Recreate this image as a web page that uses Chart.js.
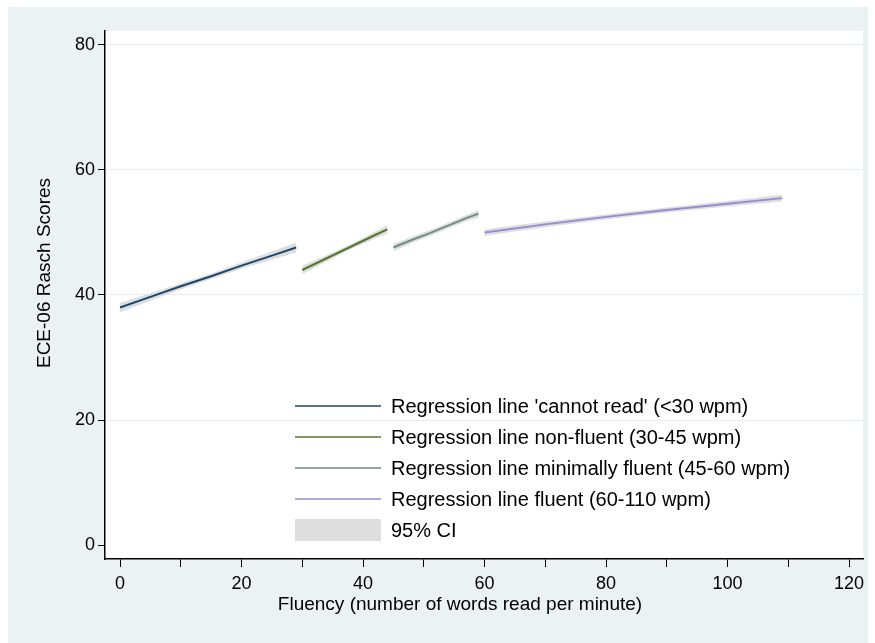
<!DOCTYPE html>
<html>
<head>
<meta charset="utf-8">
<script src="https://cdn.jsdelivr.net/npm/chart.js@4.4.1/dist/chart.umd.min.js"></script>
<style>
  html, body { margin: 0; padding: 0; background: #ffffff; }
  #wrap { width: 875px; height: 643px; }
</style>
</head>
<body>
<div id="wrap"><canvas id="c" width="875" height="643"></canvas></div>
<script>
// ---- Data ----
const seriesLabels = [
  "Regression line 'cannot read' (<30 wpm)",
  "Regression line non-fluent (30-45 wpm)",
  "Regression line minimally fluent (45-60 wpm)",
  "Regression line fluent (60-110 wpm)"
];
const ciLabel = "95% CI";

const xCannot = [0, 5, 10, 15, 20, 25, 29];
const yCannot = [38.0, 39.7, 41.4, 43.0, 44.7, 46.3, 47.6];
const hwCannot = [0.75, 0.6, 0.5, 0.45, 0.5, 0.65, 0.8];

const xNonFluent = [30, 33, 36, 39, 42, 44];
const yNonFluent = [44.0, 45.4, 46.8, 48.2, 49.6, 50.5];
const hwNonFluent = [0.7, 0.55, 0.45, 0.45, 0.55, 0.7];

const xMinFluent = [45, 48, 51, 54, 57, 59];
const yMinFluent = [47.6, 48.8, 49.9, 51.1, 52.3, 53.0];
const hwMinFluent = [0.6, 0.5, 0.45, 0.45, 0.5, 0.6];

const xFluent = [60, 70, 80, 90, 100, 109];
const yFluent = [50.0, 51.3, 52.5, 53.6, 54.6, 55.5];
const hwFluent = [0.5, 0.45, 0.4, 0.4, 0.45, 0.55];

const xTickValues = [0, 10, 20, 30, 40, 50, 60, 70, 80, 90, 100, 110, 120];
const xTickLabels = ["0", "", "20", "", "40", "", "60", "", "80", "", "100", "", "120"];
const yTickValues = [0, 20, 40, 60, 80];
const yTickLabels = ["0", "20", "40", "60", "80"];

const xTitle = "Fluency (number of words read per minute)";
const yTitle = "ECE-06 Rasch Scores";

// ---- Styles ----
const lineColors = ["#1a476f", "#55752f", "#6e8e84", "#938dd2"];
const bandColor = "#dedede";
const FONT = "'Liberation Sans', Arial, Helvetica, sans-serif";

const groups = [
  [xCannot, yCannot, hwCannot],
  [xNonFluent, yNonFluent, hwNonFluent],
  [xMinFluent, yMinFluent, hwMinFluent],
  [xFluent, yFluent, hwFluent]
];

const datasets = [];
groups.forEach((g, i) => {
  const [xs, ys, hw] = g;
  datasets.push({
    label: seriesLabels[i],
    data: xs.map((x, k) => ({ x: x, y: ys[k] })),
    borderColor: lineColors[i],
    borderWidth: 2,
    pointRadius: 0,
    fill: false,
    tension: 0,
    order: 0
  });
});
groups.forEach((g, i) => {
  const [xs, ys, hw] = g;
  datasets.push({
    label: ciLabel + " upper " + i,
    data: xs.map((x, k) => ({ x: x, y: ys[k] + hw[k] })),
    borderWidth: 0,
    borderColor: "rgba(0,0,0,0)",
    backgroundColor: bandColor,
    pointRadius: 0,
    fill: "+1",
    tension: 0.3,
    order: 1
  });
  datasets.push({
    label: ciLabel + " lower " + i,
    data: xs.map((x, k) => ({ x: x, y: ys[k] - hw[k] })),
    borderWidth: 0,
    borderColor: "rgba(0,0,0,0)",
    pointRadius: 0,
    fill: false,
    tension: 0.3,
    order: 1
  });
});

const bgPlugin = {
  id: "bg",
  beforeDraw(chart) {
    const ctx = chart.ctx;
    ctx.save();
    ctx.fillStyle = "#ffffff";
    ctx.fillRect(0, 0, chart.width, chart.height);
    ctx.fillStyle = "#eaf2f3";
    ctx.fillRect(8, 7, 860, 636);
    const a = chart.chartArea;
    ctx.fillStyle = "#ffffff";
    ctx.fillRect(a.left, a.top, a.right - a.left, a.bottom - a.top);
    ctx.restore();
  }
};

// Axis titles (Stata places them slightly off the plot-area centre)
const titlePlugin = {
  id: "axisTitles",
  afterDraw(chart) {
    const ctx = chart.ctx;
    ctx.save();
    ctx.font = "19px " + FONT;
    ctx.fillStyle = "#000";
    ctx.textAlign = "center";
    ctx.textBaseline = "middle";
    ctx.fillText(xTitle, 460, 605);
    ctx.translate(45, 273);
    ctx.rotate(-Math.PI / 2);
    ctx.fillText(yTitle, 0, 0);
    ctx.restore();
  }
};

const legendPlugin = {
  id: "customLegend",
  afterDatasetsDraw(chart) {
    const ctx = chart.ctx;
    ctx.save();
    const x0 = 295, x1 = 381, tx = 391;
    const rowY = [407, 438, 469, 500, 531];
    ctx.font = "20px " + FONT;
    ctx.textBaseline = "middle";
    ctx.fillStyle = "#000";
    for (let i = 0; i < 4; i++) {
      const ds = chart.data.datasets[i];
      ctx.strokeStyle = ds.borderColor;
      ctx.lineWidth = 1.5;
      ctx.beginPath();
      ctx.moveTo(x0, rowY[i] - 1);
      ctx.lineTo(x1, rowY[i] - 1);
      ctx.stroke();
      ctx.fillText(ds.label, tx, rowY[i]);
    }
    ctx.fillStyle = bandColor;
    ctx.fillRect(x0, rowY[4] - 12, x1 - x0, 22);
    ctx.fillStyle = "#000";
    ctx.fillText(ciLabel, tx, rowY[4]);
    ctx.restore();
  }
};

new Chart(document.getElementById("c"), {
  type: "line",
  data: { datasets: datasets },
  plugins: [bgPlugin, legendPlugin, titlePlugin],
  options: {
    responsive: false,
    animation: false,
    devicePixelRatio: 1,
    layout: { padding: { left: 0, top: 31, right: 12, bottom: 0 } },
    plugins: { legend: { display: false }, tooltip: { enabled: false } },
    scales: {
      x: {
        type: "linear",
        min: -2.47,
        max: 122.3,
        afterBuildTicks(scale) { scale.ticks = xTickValues.map(v => ({ value: v })); },
        afterFit(scale) { scale.height = 84; },
        ticks: {
          autoSkip: false,
          maxRotation: 0,
          padding: 6,
          color: "#000",
          font: { family: FONT, size: 18 },
          callback(v) { const i = xTickValues.indexOf(v); return i >= 0 ? xTickLabels[i] : ""; }
        },
        grid: { drawOnChartArea: false, drawTicks: true, tickLength: 8, tickColor: "#000", tickWidth: 1 },
        border: { display: true, color: "#000", width: 1.5 },
        title: { display: false, text: xTitle }
      },
      y: {
        type: "linear",
        min: -2.24,
        max: 82.24,
        afterBuildTicks(scale) { scale.ticks = yTickValues.map(v => ({ value: v })); },
        afterFit(scale) { scale.width = 105; },
        ticks: {
          autoSkip: false,
          padding: 3,
          color: "#000",
          font: { family: FONT, size: 18 },
          callback(v) { const i = yTickValues.indexOf(v); return i >= 0 ? yTickLabels[i] : ""; }
        },
        grid: {
          drawOnChartArea: true,
          drawTicks: true,
          tickLength: 7,
          tickColor: "#000",
          color(c) { return c.tick && c.tick.value === 0 ? "rgba(0,0,0,0)" : "#e6eef0"; },
          lineWidth: 1
        },
        border: { display: true, color: "#000", width: 1.5 },
        title: { display: false, text: yTitle }
      }
    }
  }
});
</script>
</body>
</html>
